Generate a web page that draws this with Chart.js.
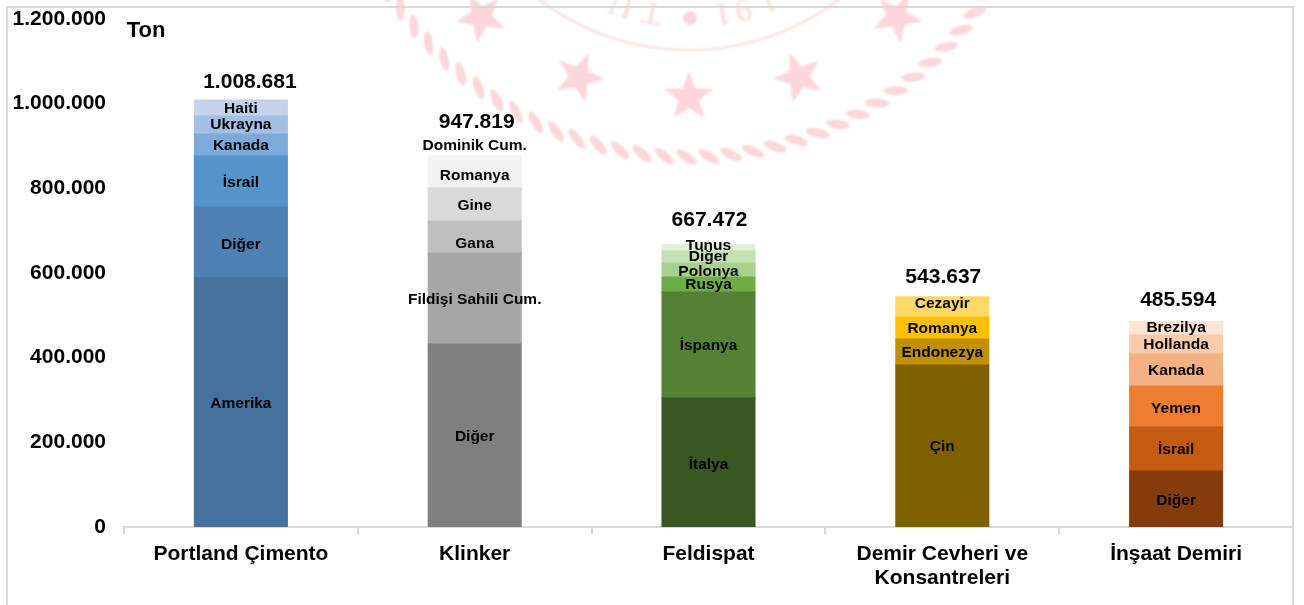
<!DOCTYPE html>
<html>
<head>
<meta charset="utf-8">
<title>Ton</title>
<script src="https://cdn.jsdelivr.net/npm/chart.js@4"></script>
<style>
    html, body { margin: 0; padding: 0; background: #fff; }
    canvas { display: block; }
</style>
</head>
<body>
<canvas id="myChart" width="1304" height="605"></canvas>
<script>
const categories = ["Portland Çimento", "Klinker", "Feldispat", ["Demir Cevheri ve", "Konsantreleri"], "İnşaat Demiri"];
const totals = [1008681, 947819, 667472, 543637, 485594];
const tickValues = [0, 200000, 400000, 600000, 800000, 1000000, 1200000];

// stacks go bottom to top
const portlandNames = ["Amerika", "Diğer", "İsrail", "Kanada", "Ukrayna", "Haiti"];
const portlandValues = [588000, 167700, 120500, 52000, 42500, 37981];
const klinkerNames = ["Diğer", "Fildişi Sahili Cum.", "Gana", "Gine", "Romanya", "Dominik Cum."];
const klinkerValues = [432000, 215000, 75600, 78000, 75600, 71619];
const feldispatNames = ["İtalya", "İspanya", "Rusya", "Polonya", "Diğer", "Tunus"];
const feldispatValues = [304700, 250400, 35400, 33100, 28300, 15572];
const demirNames = ["Çin", "Endonezya", "Romanya", "Cezayir"];
const demirValues = [382600, 61400, 52000, 47637];
const insaatNames = ["Diğer", "İsrail", "Yemen", "Kanada", "Hollanda", "Brezilya"];
const insaatValues = [132300, 103900, 96800, 75600, 44900, 32094];

const portlandColors = ["#44719d", "#4d80b3", "#5593cb", "#7caadb", "#a3bfe3", "#c3d3ea"];
const klinkerColors = ["#7f7f7f", "#a6a6a6", "#bfbfbf", "#d9d9d9", "#f2f2f2", "rgba(255,255,255,0)"];
const feldispatColors = ["#385723", "#548235", "#70ad47", "#a9d18e", "#c5e0b4", "#e2f0d9"];
const demirColors = ["#7f6000", "#bf9000", "#ffc000", "#ffd966"];
const insaatColors = ["#843c0c", "#c55a11", "#ed7d31", "#f4b183", "#f8cbad", "#fbe5d6"];

// hand placed label offsets, same order as the names above
const portlandNudge = [1, 2, 1, 1, 0, 1];
const klinkerNudge = [1, 1, 7, 1, 4, 5];
const feldispatNudge = [2, 1, 0, 2, 0, -2];
const demirNudge = [1, 1, 1, -3];
const insaatNudge = [2, 1, 2, 1, 0, -1];
const totalNudgeX = [9, 2, 1, 1, 2];
const totalNudgeY = [-18, -4, -24, -20, -21];

const labelFont = "bold 15.5px 'Liberation Sans'";
const bigFont = "bold 21px 'Liberation Sans'";
const pink = "#fcd6db";

function withDots(n) {
    return String(n).replace(/\B(?=(\d{3})+(?!\d))/g, ".");
}

let groups = [
    { names: portlandNames, values: portlandValues, colors: portlandColors, nudge: portlandNudge },
    { names: klinkerNames, values: klinkerValues, colors: klinkerColors, nudge: klinkerNudge },
    { names: feldispatNames, values: feldispatValues, colors: feldispatColors, nudge: feldispatNudge },
    { names: demirNames, values: demirValues, colors: demirColors, nudge: demirNudge },
    { names: insaatNames, values: insaatValues, colors: insaatColors, nudge: insaatNudge }
];

let datasets = [];
groups.forEach((group, cat) => {
    group.values.forEach((value, j) => {
        let row = categories.map(() => null);
        row[cat] = value;
        datasets.push({
            label: group.names[j],
            data: row,
            backgroundColor: group.colors[j],
            borderWidth: 0,
            inflateAmount: 0.5,
            stack: "all",
            nudge: group.nudge[j],
            cat: cat
        });
    });
});

function star(ctx, x, y, r, rot) {
    ctx.save();
    ctx.translate(x, y);
    ctx.rotate(rot);
    ctx.beginPath();
    for (let i = 0; i < 10; i++) {
        let rad = i % 2 ? r * 0.42 : r;
        let a = i * Math.PI / 5;
        ctx.lineTo(rad * Math.sin(a), -rad * Math.cos(a));
    }
    ctx.closePath();
    ctx.fill();
    ctx.restore();
}

// faint seal behind the chart plus the outer frame
const backdrop = {
    id: "backdrop",
    beforeDraw(chart) {
        let ctx = chart.ctx;
        let cx = 689, cy = -198;
        ctx.save();
        ctx.filter = "blur(1.2px)";
        ctx.fillStyle = pink;
        ctx.strokeStyle = pink;

        // rope
        for (let d = -58; d <= 58; d += 3.6) {
            let a = d * Math.PI / 180;
            ctx.save();
            ctx.translate(cx + 355 * Math.sin(a), cy + 355 * Math.cos(a));
            ctx.rotate(-a + 0.6);
            ctx.beginPath();
            ctx.ellipse(0, 0, 12, 4.5, 0, 0, Math.PI * 2);
            ctx.fill();
            ctx.restore();
        }

        // inner ring
        ctx.lineWidth = 2;
        ctx.beginPath();
        ctx.arc(cx, cy, 248, 0, Math.PI);
        ctx.stroke();

        // stars
        [[481, 17], [579, 77], [689, 97], [799, 77], [897, 17]].forEach(p => {
            star(ctx, p[0], p[1], 26, -Math.asin((p[0] - cx) / Math.hypot(p[0] - cx, p[1] - cy)));
        });

        // ring text, upside down
        ctx.beginPath();
        ctx.arc(690, 18, 7, 0, Math.PI * 2);
        ctx.fill();
        ctx.font = "32px 'Liberation Serif'";
        ctx.textAlign = "center";
        ctx.textBaseline = "middle";
        [["1", 723], ["9", 743], ["1", 768], ["T", 652], ["U", 622]].forEach(g => {
            let a = Math.asin((g[1] - cx) / 213);
            ctx.save();
            ctx.translate(cx + 213 * Math.sin(a), cy + 213 * Math.cos(a));
            ctx.rotate(Math.PI - a);
            ctx.fillText(g[0], 0, 0);
            ctx.restore();
        });
        ctx.filter = "none";

        // frame, open at the bottom
        ctx.strokeStyle = "#d9d9d9";
        ctx.lineWidth = 2;
        ctx.beginPath();
        ctx.moveTo(7, 605);
        ctx.lineTo(7, 7);
        ctx.lineTo(1293, 7);
        ctx.lineTo(1293, 605);
        ctx.stroke();
        ctx.restore();
    }
};

// country names inside the bars and the totals above them
const barLabels = {
    id: "barLabels",
    afterDatasetsDraw(chart) {
        let ctx = chart.ctx;
        let y = chart.scales.y;
        let x = chart.scales.x;
        ctx.save();
        ctx.fillStyle = "#000";
        ctx.textAlign = "center";
        ctx.textBaseline = "middle";

        ctx.font = labelFont;
        chart.data.datasets.forEach((ds, i) => {
            let bar = chart.getDatasetMeta(i).data[ds.cat];
            ctx.fillText(ds.label, bar.x, (bar.y + bar.base) / 2 + ds.nudge);
        });

        ctx.font = bigFont;
        totals.forEach((total, i) => {
            ctx.fillText(withDots(total), x.getPixelForValue(i) + totalNudgeX[i], y.getPixelForValue(total) + totalNudgeY[i]);
        });

        ctx.font = "bold 22px 'Liberation Sans'";
        ctx.fillText("Ton", 146, 31);
        ctx.restore();
    }
};

var ctx = document.getElementById("myChart").getContext("2d");
var myChart = new Chart(ctx, {
    type: "bar",
    data: { labels: categories, datasets: datasets },
    plugins: [backdrop, barLabels],
    options: {
        responsive: false,
        animation: false,
        barPercentage: 0.398,
        categoryPercentage: 1,
        layout: { padding: { top: 19, right: 11, left: 0, bottom: 0 } },
        plugins: { legend: { display: false }, tooltip: { enabled: false } },
        scales: {
            x: {
                stacked: true,
                afterFit(scale) {
                    scale.height = 78;
                    scale.paddingLeft = 0;
                    scale.paddingRight = 0;
                },
                grid: { drawOnChartArea: false, color: "#d9d9d9", lineWidth: 2, tickLength: 7 },
                border: { color: "#d9d9d9", width: 2 },
                ticks: {
                    color: "#000",
                    font: { family: "'Liberation Sans'", size: 21, weight: "bold", lineHeight: 1.15 },
                    padding: 8,
                    maxRotation: 0,
                    autoSkip: false
                }
            },
            y: {
                stacked: true,
                min: 0,
                max: 1200000,
                afterFit(scale) {
                    scale.width = 124;
                    scale.paddingTop = 0;
                    scale.paddingBottom = 0;
                },
                afterBuildTicks(scale) { scale.ticks = tickValues.map(v => ({ value: v })); },
                grid: { display: false, drawTicks: false },
                border: { display: false },
                ticks: {
                    color: "#000",
                    font: { family: "'Liberation Sans'", size: 21, weight: "bold" },
                    padding: 18,
                    callback: withDots
                }
            }
        }
    }
});
</script>
</body>
</html>
